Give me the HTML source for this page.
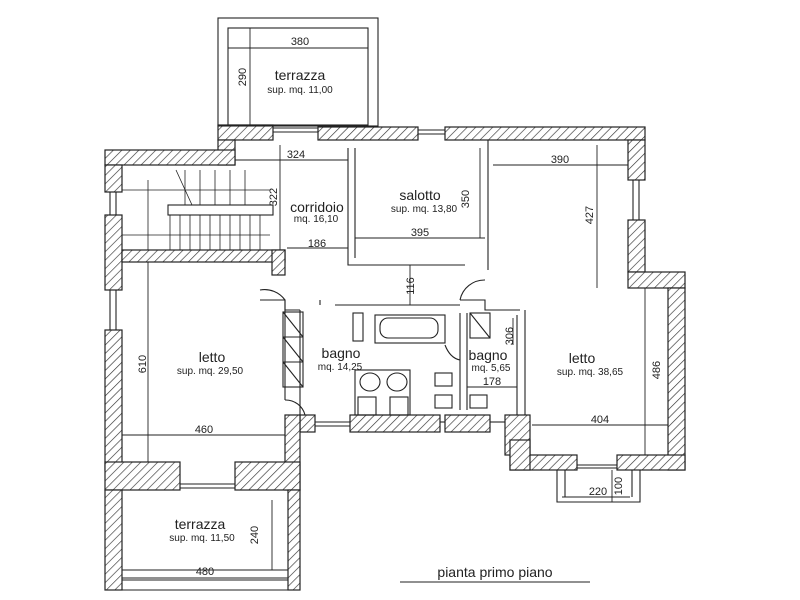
<!DOCTYPE html>
<html><head><meta charset="utf-8"><style>
html,body{margin:0;padding:0;background:#fff}
svg{display:block}
text{font-family:"Liberation Sans",sans-serif;fill:#222}
</style></head><body>
<svg width="800" height="600" viewBox="0 0 800 600" xmlns="http://www.w3.org/2000/svg">
<defs>
<pattern id="h" width="6" height="6" patternUnits="userSpaceOnUse" patternTransform="rotate(45)">
<rect width="6" height="6" fill="#fff"/><line x1="0" y1="0" x2="0" y2="6" stroke="#333" stroke-width="1.3"/>
</pattern>
</defs>
<g fill="url(#h)" stroke="#222" stroke-width="1.2">
<rect x="218" y="125" width="55" height="15"/>
<rect x="318" y="127" width="100" height="13"/>
<rect x="445" y="127" width="200" height="13"/>
<rect x="218" y="140" width="17" height="25"/>
<rect x="105" y="150" width="130" height="15"/>
<rect x="105" y="165" width="17" height="27"/>
<rect x="105" y="215" width="17" height="75"/>
<rect x="105" y="330" width="17" height="140"/>
<rect x="122" y="250" width="163" height="12"/>
<rect x="272" y="250" width="13" height="25"/>
<rect x="628" y="140" width="17" height="40"/>
<rect x="628" y="220" width="17" height="52"/>
<rect x="628" y="272" width="57" height="16"/>
<rect x="668" y="288" width="17" height="182"/>
<rect x="617" y="455" width="68" height="15"/>
<rect x="510" y="455" width="67" height="15"/>
<rect x="505" y="415" width="25" height="40"/>
<rect x="510" y="440" width="20" height="30"/>
<rect x="300" y="415" width="15" height="17"/>
<rect x="350" y="415" width="90" height="17"/>
<rect x="445" y="415" width="45" height="17"/>
<rect x="285" y="415" width="15" height="75"/>
<rect x="105" y="462" width="75" height="28"/>
<rect x="235" y="462" width="65" height="28"/>
<rect x="105" y="490" width="17" height="100"/>
<rect x="288" y="490" width="12" height="100"/>
</g>
<g fill="none" stroke="#222" stroke-width="1.1">
<!-- windows -->
<line x1="273" y1="128" x2="318" y2="128"/><line x1="273" y1="132" x2="318" y2="132"/>
<line x1="418" y1="130" x2="445" y2="130"/><line x1="418" y1="134" x2="445" y2="134"/>
<line x1="110" y1="192" x2="110" y2="215"/><line x1="116" y1="192" x2="116" y2="215"/>
<line x1="110" y1="290" x2="110" y2="330"/><line x1="116" y1="290" x2="116" y2="330"/>
<line x1="633" y1="180" x2="633" y2="220"/><line x1="639" y1="180" x2="639" y2="220"/>
<line x1="180" y1="484" x2="235" y2="484"/><line x1="180" y1="488" x2="235" y2="488"/>
<line x1="315" y1="422" x2="350" y2="422"/><line x1="315" y1="426" x2="350" y2="426"/>
<line x1="440" y1="422" x2="445" y2="422"/><line x1="490" y1="422" x2="505" y2="422"/>
<line x1="577" y1="465" x2="617" y2="465"/><line x1="577" y1="468" x2="617" y2="468"/>
<rect x="218" y="18" width="160" height="108"/>
<rect x="228" y="28" width="140" height="97"/>
<line x1="122" y1="570" x2="288" y2="570"/><line x1="122" y1="580" x2="288" y2="580"/>
<line x1="105" y1="590" x2="300" y2="590"/>
<polyline points="348,148 348,265 465,265"/>
<polyline points="488,140 488,270"/>
<line x1="355" y1="148" x2="355" y2="258"/>
<line x1="355" y1="238" x2="485" y2="238"/>
<polyline points="260,300 285,300 285,310 300,310"/>
<polyline points="285,300 285,400"/>
<line x1="300" y1="310" x2="300" y2="415"/>
<line x1="320" y1="300" x2="320" y2="305"/>
<line x1="335" y1="305" x2="460" y2="305"/>
<polyline points="460,300 485,300 485,310 520,310"/>
<line x1="460" y1="313" x2="460" y2="410"/>
<line x1="467" y1="313" x2="467" y2="410"/>
<line x1="517" y1="315" x2="517" y2="415"/>
<line x1="525" y1="310" x2="525" y2="415"/>
<path d="M285 300 A25 25 0 0 0 260 290"/>
<path d="M460 300 A25 25 0 0 1 485 280"/>
<path d="M285 400 A20 20 0 0 1 305 415"/>
<rect x="283" y="312" width="20" height="75"/>
<line x1="283" y1="337" x2="303" y2="337"/><line x1="283" y1="362" x2="303" y2="362"/>
<line x1="283" y1="312" x2="303" y2="337"/><line x1="283" y1="337" x2="303" y2="362"/><line x1="283" y1="362" x2="303" y2="387"/>
<rect x="353" y="313" width="10" height="28"/>
<rect x="375" y="315" width="70" height="28"/>
<rect x="380" y="318" width="58" height="20" rx="8"/>
<path d="M445 345 Q450 358 460 360"/>
<rect x="355" y="370" width="55" height="45"/>
<ellipse cx="370" cy="382" rx="10" ry="9"/><ellipse cx="397" cy="382" rx="10" ry="9"/>
<rect x="358" y="397" width="18" height="18"/><rect x="390" y="397" width="18" height="18"/>
<rect x="435" y="373" width="17" height="13"/><rect x="435" y="395" width="17" height="13"/>
<rect x="470" y="313" width="20" height="25"/><line x1="470" y1="313" x2="490" y2="338"/>
<rect x="470" y="395" width="17" height="13"/>
<rect x="168" y="205" width="105" height="10"/>
<g stroke-width="0.8">
<line x1="122" y1="190" x2="270" y2="190"/><line x1="122" y1="235" x2="270" y2="235"/>
<line x1="185" y1="170" x2="185" y2="205"/><line x1="200" y1="170" x2="200" y2="205"/><line x1="215" y1="170" x2="215" y2="205"/><line x1="230" y1="170" x2="230" y2="205"/><line x1="245" y1="170" x2="245" y2="205"/>
<line x1="170" y1="215" x2="170" y2="250"/><line x1="180" y1="215" x2="180" y2="250"/><line x1="190" y1="215" x2="190" y2="250"/><line x1="200" y1="215" x2="200" y2="250"/><line x1="210" y1="215" x2="210" y2="250"/><line x1="220" y1="215" x2="220" y2="250"/><line x1="230" y1="215" x2="230" y2="250"/><line x1="240" y1="215" x2="240" y2="250"/><line x1="250" y1="215" x2="250" y2="250"/><line x1="260" y1="215" x2="260" y2="250"/>
<line x1="176" y1="170" x2="192" y2="205"/>
<line x1="148" y1="180" x2="148" y2="250"/>
</g>
<polyline points="557,470 557,502 640,502 640,470"/>
<line x1="565" y1="470" x2="565" y2="497"/><line x1="632" y1="470" x2="632" y2="497"/>
</g>
<g stroke="#222" stroke-width="0.9" fill="none">
<line x1="228" y1="48" x2="368" y2="48"/>
<line x1="250" y1="28" x2="250" y2="125"/>
<line x1="235" y1="160" x2="348" y2="160"/>
<line x1="280" y1="145" x2="280" y2="250"/>
<line x1="287" y1="248" x2="348" y2="248"/>
<line x1="480" y1="148" x2="480" y2="238"/>
<line x1="493" y1="165" x2="628" y2="165"/>
<line x1="597" y1="145" x2="597" y2="288"/>
<line x1="410" y1="265" x2="410" y2="305"/>
<line x1="148" y1="262" x2="148" y2="462"/>
<line x1="122" y1="435" x2="285" y2="435"/>
<line x1="532" y1="425" x2="668" y2="425"/>
<line x1="645" y1="288" x2="645" y2="455"/>
<line x1="467" y1="387" x2="517" y2="387"/>
<line x1="513" y1="318" x2="513" y2="345"/>
<line x1="122" y1="578" x2="288" y2="578"/>
<line x1="272" y1="500" x2="272" y2="570"/>
<line x1="562" y1="497" x2="630" y2="497"/>
<line x1="612" y1="470" x2="612" y2="502"/>
</g>
<g font-size="11" text-anchor="middle">
<text x="300" y="45">380</text>
<text x="246" y="77" transform="rotate(-90 246 77)">290</text>
<text x="300" y="80" font-size="14">terrazza</text>
<text x="300" y="93" font-size="10">sup. mq. 11,00</text>
<text x="296" y="158">324</text>
<text x="277" y="197" transform="rotate(-90 277 197)">322</text>
<text x="317" y="212" font-size="14">corridoio</text>
<text x="316" y="222" font-size="10">mq. 16,10</text>
<text x="317" y="247">186</text>
<text x="420" y="200" font-size="14">salotto</text>
<text x="424" y="212" font-size="10">sup. mq. 13,80</text>
<text x="469" y="199" transform="rotate(-90 469 199)">350</text>
<text x="420" y="236">395</text>
<text x="560" y="163">390</text>
<text x="593" y="215" transform="rotate(-90 593 215)">427</text>
<text x="414" y="286" transform="rotate(-90 414 286)">116</text>
<text x="146" y="364" transform="rotate(-90 146 364)">610</text>
<text x="212" y="362" font-size="14">letto</text>
<text x="210" y="374" font-size="10">sup. mq. 29,50</text>
<text x="204" y="433">460</text>
<text x="341" y="358" font-size="14">bagno</text>
<text x="340" y="370" font-size="10">mq. 14,25</text>
<text x="488" y="360" font-size="14">bagno</text>
<text x="491" y="371" font-size="10">mq. 5,65</text>
<text x="492" y="385">178</text>
<text x="513" y="336" transform="rotate(-90 513 336)">306</text>
<text x="582" y="363" font-size="14">letto</text>
<text x="590" y="375" font-size="10">sup. mq. 38,65</text>
<text x="660" y="370" transform="rotate(-90 660 370)">486</text>
<text x="600" y="423">404</text>
<text x="598" y="495">220</text>
<text x="622" y="486" transform="rotate(-90 622 486)">100</text>
<text x="200" y="529" font-size="14">terrazza</text>
<text x="202" y="541" font-size="10">sup. mq. 11,50</text>
<text x="258" y="535" transform="rotate(-90 258 535)">240</text>
<text x="205" y="575">480</text>
<text x="495" y="577" font-size="14">pianta primo piano</text>
</g>
<line x1="400" y1="582" x2="590" y2="582" stroke="#222" stroke-width="1"/>
</svg>
</body></html>
